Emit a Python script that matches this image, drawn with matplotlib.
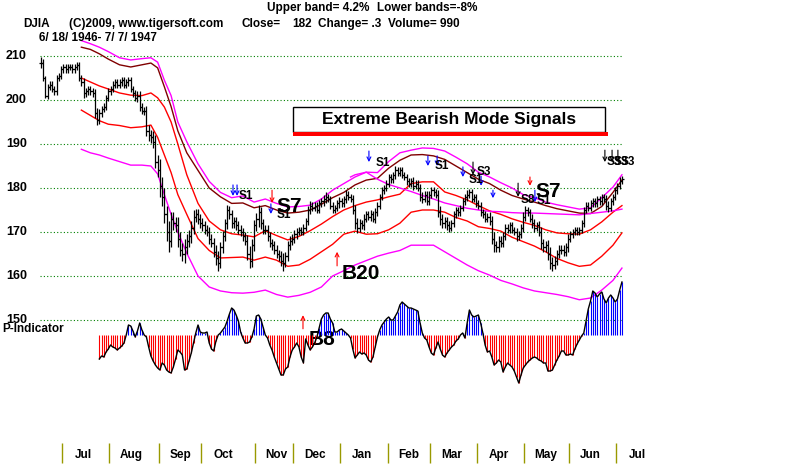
"""
DJIA 6/18/1946 - 7/7/1947 with TigerSoft-style bands, signals and P-Indicator.
"""

import matplotlib

matplotlib.use("Agg")
import numpy as np
import matplotlib.pyplot as plt
import matplotlib.transforms as mtransforms
from matplotlib.patches import Rectangle

plt.rcParams["font.family"] = ["Liberation Sans", "DejaVu Sans"]
plt.rcParams["font.weight"] = "bold"

# ---- daily closes (one per trading day) ----
closes = [
    208.5, 205, 201, 203, 203.5, 202.5, 202, 205, 205.5, 207,
    207.5, 207, 207.5, 207.5, 207, 207.5, 208, 205, 204, 201.5,
    202, 202.5, 202, 201.5, 197, 195.5, 197, 198, 198.5, 200.5,
    202, 202.5, 203.5, 204, 203.5, 204, 204.5, 203.5, 204, 204.5,
    202.5, 201.5, 200.5, 201, 198.5, 197.5, 197.5, 193, 192, 191.5,
    190.5, 186, 184, 180.5, 178, 174, 170, 168, 173, 172,
    171.5, 168.5, 166, 165, 166.5, 168, 169, 171, 173.5, 174,
    173, 172, 171.5, 170.5, 170, 168.5, 167.5, 165.5, 164, 163,
    166.5, 169, 172, 175, 174, 172, 172.5, 171.5, 170.5, 170,
    169, 168, 165, 163.5, 167, 171.5, 173, 174.5, 172, 170.5,
    170.5, 169, 167.5, 167, 166, 165, 164.5, 163.5, 163, 164.5,
    167, 168, 168.5, 169.5, 170, 170.5, 170, 171, 172.5, 175,
    176, 175.5, 176, 175, 176.5, 177, 177.5, 178, 177.5, 176,
    175, 175.5, 176.5, 177, 176.5, 177.5, 178.5, 178, 177.5, 175,
    172, 171, 172, 171.5, 173, 174, 173.5, 174, 173, 174.5,
    176, 178, 179.5, 180, 181, 182.5, 182, 183, 184, 183.5,
    184, 183, 182.5, 181.5, 181, 181.5, 180.5, 181, 180, 178,
    177.5, 178.5, 177, 178.5, 179.5, 179, 178.5, 174.5, 173, 172,
    172.5, 171.5, 171, 172, 174, 175, 174.5, 175.5, 177, 178,
    178.5, 179, 177.5, 178, 176.5, 176, 174.5, 174, 173, 173.5,
    172.5, 168.5, 167, 166.5, 168, 167.5, 169, 171, 170.5, 171.5,
    170.5, 170, 169, 169.5, 171, 173.5, 175, 174.5, 173, 172,
    171, 171.5, 170, 167.5, 166.5, 167, 165, 163, 162.5, 163.5,
    165, 166, 166, 165.5, 166.5, 168.5, 169.5, 170, 170.5, 170,
    170.5, 172, 175, 176, 175.5, 176.5, 177, 176.5, 177.5, 177,
    178, 177.5, 176, 175.5, 177, 178, 179.5, 180.5, 181.7, 182,
]

# extra daily range beyond the open/close body (points)
wick = [
    2.5, 1.5, 1, 1.5, 1.5, 1.5, 1.5, 1.5, 1.5, 1.5,
    1.5, 1.5, 1.5, 1.5, 1.5, 1.5, 1.5, 1.5, 1.5, 2,
    1.5, 1.5, 1.5, 1.5, 2, 2.5, 2, 1.5, 1.5, 1.5,
    1.5, 1.5, 1.5, 1.5, 1.5, 1.5, 1.5, 1.5, 1.5, 1.5,
    1.5, 1.5, 1.5, 2, 2, 1.5, 2, 2.5, 2.5, 2.5,
    3, 3, 3, 5, 4, 4, 4, 5, 3, 3,
    3, 4, 3, 3, 4, 3, 3, 3, 3, 2.5,
    2.5, 2, 2.5, 2, 2, 2.5, 2, 2.5, 3, 3.5,
    2.5, 2.5, 2, 2.5, 2, 2, 2, 2, 2, 2,
    2, 2, 2.5, 3.5, 3, 2.5, 2.5, 3.5, 2.5, 2,
    2, 2, 2, 2, 2, 2, 2, 2.5, 3.5, 2,
    2, 2, 2, 2, 2, 1.5, 1.5, 1.5, 1.5, 2,
    2, 1.5, 1.5, 1.5, 1.5, 1.5, 2, 2, 1.5, 1.5,
    1.5, 1.5, 1.5, 2, 1.5, 1.5, 2, 1.5, 1.5, 2,
    2.5, 2.5, 2, 1.5, 2, 1.5, 1.5, 2, 1.5, 2,
    1.5, 1.5, 1.5, 1.5, 1.5, 1.5, 1.5, 1.5, 2, 1.5,
    1.5, 1.5, 1.5, 1.5, 1.5, 1.5, 2, 1.5, 1.5, 2,
    2, 1.5, 1.5, 1.5, 1.5, 1.5, 1.5, 2, 3, 2,
    2, 2, 2, 1.5, 1.5, 1.5, 1.5, 1.5, 1.5, 1.5,
    2, 1.5, 1.5, 1.5, 1.5, 1.5, 1.5, 1.5, 1.5, 1.5,
    2, 2.5, 3, 2, 2, 2, 2, 1.5, 1.5, 1.5,
    1.5, 1.5, 2, 1.5, 1.5, 2, 2, 1.5, 1.5, 2,
    2, 1.5, 2, 2.5, 2, 2, 2.5, 3, 2.5, 2,
    2, 2, 2, 2, 2, 2, 1.5, 1.5, 1.5, 1.5,
    1.5, 1.5, 1.5, 1.5, 1.5, 1.5, 1.5, 1.5, 1.5, 1.5,
    1.5, 1.5, 2, 2, 1.5, 1.5, 1.5, 1.5, 1.5, 1.5,
]

# ---- bands, sampled every few bars ----
band_idx = [18, 22, 26, 30, 35, 40, 45, 49, 52, 55, 58, 61, 65, 70, 75, 80, 85,
            90, 95, 100, 105, 110, 115, 120, 125, 130, 135, 140, 145, 150, 155,
            160, 165, 170, 175, 180, 185, 190, 195, 200, 205, 210, 215, 220, 225,
            230, 235, 240, 245, 250, 255, 259]
upper_band = [213.5, 212.8, 212, 211, 209.6, 209.1, 209.4, 209.6, 208.6, 204.5,
              201, 195, 190.5, 185.5, 181.5, 179, 177.8, 178.2, 176.8, 177.5,
              176.5, 175.7, 175.8, 176.1, 177.5, 179.5, 181, 182.5, 183.6, 183.5,
              186, 188, 188.6, 189.1, 189, 188.4, 187, 185.5, 183.6, 182.5,
              181.2, 180, 178.5, 177.8, 176.8, 176.2, 175.7, 175.2, 175.5, 177.8,
              180.2, 183]
upper_inner = [212, 211.5, 210.5, 209.3, 208, 207.5, 208, 208.4, 207.3, 203,
               198.5, 193, 188, 184, 180, 178, 176.5, 176.6, 175.5, 176,
               175, 174.3, 174.5, 175, 176.3, 177.8, 179, 180.7, 181.8, 182.2,
               184.5, 186.3, 187.5, 187.6, 187.3, 186.5, 185, 183.5, 182, 181,
               179.5, 178.3, 177.5, 176.8, 176, 175.3, 174.8, 174.3, 174.2, 175.8,
               179, 181.8]
mid_band = [205, 204.1, 203.2, 202.5, 201.6, 201.1, 201, 201.6, 200.5, 198.4,
            195, 190, 183, 176.5, 172.5, 170.5, 169.6, 169.3, 168.9, 170.3,
            169.2, 168.2, 169, 170.3, 171.8, 173.5, 175, 176, 176.8, 177.3,
            178, 178.6, 181, 181.4, 181.4, 179.1, 178.3, 177.3, 176, 174.8,
            174, 173, 172.2, 171.5, 170.5, 169.8, 169.6, 169.5, 170.5, 172.3,
            174.5, 176]
lower_red = [197.7, 196.5, 195.3, 194.5, 194.2, 193.7, 193.9, 194.3, 191.5, 187.5,
             183.5, 178.5, 174, 168.5, 165.8, 164.1, 164.2, 164.3, 163.6, 164.3,
             163.6, 162.2, 162.5, 163.8, 165.5, 167.2, 169.5, 170.2, 169.5, 169.6,
             170.5, 172, 174.5, 175, 175, 174.5, 173.3, 172.5, 171.2, 170.8,
             170.2, 168.8, 167.8, 166.8, 165.5, 164, 163, 162.2, 162.5, 164.5,
             167, 169.8]
lower_band = [188.8, 188, 187.5, 186.8, 186, 185.2, 185.2, 185, 183.2, 178.5,
              174, 170, 165.2, 160, 157.5, 156.6, 156.2, 156.1, 156.3, 156.8,
              155.8, 155.2, 155.6, 156.3, 157.5, 160, 161.2, 162.5, 163.5, 164.5,
              165.2, 165.8, 167, 167, 167, 165.5, 164, 162.5, 161.2, 160.2,
              159, 158.2, 157.3, 156.6, 156.2, 155.8, 155.3, 154.6, 155, 156.8,
              159, 161.8]
long_idx = [138, 140, 145, 150, 155, 160, 165, 170, 175, 180, 185, 190, 195, 200,
            205, 210, 215, 220, 225, 230, 235, 240, 245, 250, 255, 259]
long_band = [182.5, 183, 183.6, 182, 180.8, 180, 179.2, 178.3, 177.5, 176.6, 176,
             175.4, 175, 174.7, 174.6, 174.4, 174.3, 174.3, 174.2, 174.1, 174,
             173.9, 174.2, 174.5, 174.8, 175.2]

# ---- P-Indicator (starts at bar 26) ----
p_start = 26
p_ind = [
    -24, -21, -22, -17,
    -14, -10, -12, -13, -15, -13, -11, -8, 0, 10,
    9, 4, -2, 4, 12, 5, 0, -2, -12, -21,
    -26, -30, -33, -35, -28, -30, -35, -37, -38, -32,
    -24, -15, -17, -20, -35, -34, -26, -18, -8, 2,
    10, 3, 2, 2, 3, -8, -14, -16, -6, 0,
    2, 5, 8, 14, 21, 27, 25, 20, 14, 3,
    -3, -8, -8, -7, -2, 6, 19, 20, 16, 8,
    0, -3, -10, -15, -22, -28, -34, -40, -40, -34,
    -32, -22, -15, -12, -8, -12, -22, -28, -4, -10,
    -15, -12, -8, -2, 7, 16, 20, 22, 22, 16,
    12, 3, 3, 5, 6, 4, 2, 0, -3, -14,
    -23, -20, -17, -19, -18, -20, -25, -27, -22, -12,
    -2, 5, 10, 13, 16, 18, 15, 15, 19, 23,
    30, 33, 31, 29, 27, 27, 26, 25, 24, 12,
    2, -3, -5, -12, -18, -20, -13, -7, -14, -20,
    -22, -18, -15, -12, -10, -6, -4, 0, 2, -3,
    12, 25, 20, 18, 19, 20, 12, 2, -10, -17,
    -16, -22, -30, -28, -25, -27, -37, -32, -28, -30,
    -32, -36, -42, -48, -40, -33, -30, -27, -25, -23,
    -22, -23, -25, -26, -28, -28, -36, -36, -35, -30,
    -25, -21, -16, -16, -20, -20, -19, -20, -14, -9,
    -5, -1, 2, 14, 26, 34, 44, 42, 38, 41,
    43, 36, 32, 37, 40, 37, 33, 36, 45, 53,
]

# ---- axis labels ----
grid_levels = [210, 200, 190, 180, 170, 160, 150]
month_names = ["Jul", "Aug", "Sep", "Oct", "Nov", "Dec", "Jan", "Feb", "Mar",
               "Apr", "May", "Jun", "Jul"]
month_start = [9.5, 30.5, 52.5, 71.5, 95.5, 112.5, 133.5, 154.5, 173.5, 194.5,
               215.5, 235.5, 256.5]

# ---- signals: (bar, tail price, tip price, colour) ----
arrow_x = [85.6, 87.4, 103, 102.5, 146.2, 172.5, 176.6, 188.1, 192.6, 196.2,
           201.5, 212.7, 218, 220.2, 251.4, 254.6, 257.2, 132, 116.8]
arrow_tail = [180.7, 180.7, 179.5, 176.4, 188.4, 187.3, 187.3, 184.8, 185.9, 182.7,
              179.5, 181.1, 182.5, 179.5, 188.6, 188.6, 188.6, 162.3, 148.0]
arrow_tip = [178.2, 178.2, 176.6, 174.1, 185.9, 185.0, 185.0, 182.5, 183.0, 180.5,
             177.7, 178.0, 180.5, 176.8, 185.9, 185.9, 185.9, 165.5, 151.1]
arrow_color = ["blue", "blue", "red", "blue", "blue", "blue", "blue", "blue", "black",
               "blue", "blue", "black", "red", "blue", "black", "black", "black",
               "red", "red"]

label_text = ["S1", "S7", "S1", "S1", "S1", "S3", "S1", "S8", "S7", "S1",
              "S3", "S3", "S3", "B20", "B8"]
label_x = [91.4, 110.6, 108.3, 152.5, 178.8, 197.5, 193.9, 217.1, 226, 224.2,
           255.5, 258.6, 261.7, 142.7, 125.3]
label_y = [178.1, 175.9, 173.9, 185.7, 185.0, 183.6, 181.8, 177.3, 179.3, 177.0,
           185.9, 185.9, 185.9, 160.5, 145.5]
label_big = [False, True, False, False, False, False, False, False, True, False,
             False, False, False, True, True]

# ---------------------------------------------------------------------------
W, H = 800, 469
X0, DX = 41, 2.243        # pixel of first bar, pixels per bar
Y210, DY = 56, 4.4        # pixel of the 210 line, pixels per point
P0 = 335                  # pixel of P-Indicator zero line

closes = np.array(closes)
n = len(closes)
idx = np.arange(n)
opens = np.r_[closes[0], closes[:-1]]
highs = np.maximum(opens, closes) + np.array(wick) / 2
lows = np.minimum(opens, closes) - np.array(wick) / 2

fig = plt.figure(figsize=(W / 100, H / 100), dpi=100)
fig.patch.set_facecolor("white")

ax = fig.add_axes([0, 0, 1, 1])
ax.set_xlim(-X0 / DX, (W - X0) / DX)
ax.set_ylim(210 - (H - Y210) / DY, 210 + Y210 / DY)
ax.axis("off")

ax2 = fig.add_axes([0, 0, 1, 1])
ax2.set_xlim(ax.get_xlim())
ax2.set_ylim(P0 - H, P0)
ax2.axis("off")
ax2.patch.set_alpha(0)


def fx(px):
    return px / W


def fy(py):
    return 1 - py / H


# dotted price grid and its labels
x_left, x_right = (40 - X0) / DX, (623 - X0) / DX
ax.hlines(grid_levels, x_left, x_right, colors="#008000", linestyles=(0, (1, 2)), lw=0.8)
lab_tf = mtransforms.blended_transform_factory(fig.transFigure, ax.transData)
for lvl in grid_levels:
    ax.text(fx(27), lvl, str(lvl), transform=lab_tf, ha="right", va="center",
            fontsize=9, color="black")
ax.text(fx(2), grid_levels[-1] - 2.1, "P-Indicator", transform=lab_tf, ha="left",
        va="center", fontsize=8.5)

# bands
ax.plot(band_idx, upper_band, color="#ff00ff", lw=1)
ax.plot(band_idx, upper_inner, color="#800000", lw=1)
ax.plot(band_idx, mid_band, color="#ff0000", lw=1)
ax.plot(band_idx, lower_red, color="#ff0000", lw=1)
ax.plot(band_idx, lower_band, color="#ff00ff", lw=1)
ax.plot(long_idx, long_band, color="#ff00ff", lw=1)

# OHLC bars
ax.vlines(idx, lows, highs, colors="black", lw=0.9)
ax.hlines(closes, idx, idx + 0.8, colors="black", lw=0.9)
ax.hlines(opens, idx - 0.8, idx, colors="black", lw=0.9)

# P-Indicator
p = np.array(p_ind)
p_idx = np.arange(p_start, p_start + len(p))
ax2.vlines(p_idx[p > 0], 0, p[p > 0], colors="#0000ff", lw=0.8)
ax2.vlines(p_idx[p < 0], 0, p[p < 0], colors="#ff0000", lw=0.8)
ax2.plot(p_idx, p, color="black", lw=1)

# month ticks
ax.vlines(month_start, 117.5, 122.05, colors="#999900", lw=1)
for m, name in zip(month_start, month_names):
    ax.text(m + 9.6, 119.4, name, ha="center", va="center", fontsize=8.5)

# signals
for x, t0, t1, c in zip(arrow_x, arrow_tail, arrow_tip, arrow_color):
    ax.annotate("", xy=(x, t1), xytext=(x, t0),
                arrowprops=dict(arrowstyle="->", color=c, lw=0.8,
                                shrinkA=0, shrinkB=0, mutation_scale=7))
for s, x, y, big in zip(label_text, label_x, label_y, label_big):
    ax.text(x, y, s, ha="center", va="center", fontsize=15 if big else 8.5,
            color="black")

# header
fig.text(fx(267), fy(8), "Upper band= 4.2%", fontsize=8.5, va="center")
fig.text(fx(377), fy(8), "Lower bands=-8%", fontsize=8.5, va="center")
fig.text(fx(23), fy(24), "DJIA", fontsize=8.5, va="center")
fig.text(fx(69), fy(24), "(C)2009, www.tigersoft.com", fontsize=8.5, va="center")
fig.text(fx(242), fy(24), "Close=", fontsize=8.5, va="center")
fig.text(fx(292), fy(24), "182", fontsize=8.5, va="center")
fig.text(fx(318), fy(24), "Change= .3", fontsize=8.5, va="center")
fig.text(fx(388), fy(24), "Volume= 990", fontsize=8.5, va="center")
fig.text(fx(39), fy(38), "6/ 18/ 1946- 7/ 7/ 1947", fontsize=8.5, va="center")

# title box
fig.add_artist(Rectangle((fx(293), fy(132)), (605 - 293) / W, 25 / H,
                         transform=fig.transFigure, facecolor="white",
                         edgecolor="black", lw=1))
fig.add_artist(Rectangle((fx(293), fy(136)), (608 - 293) / W, 4 / H,
                         transform=fig.transFigure, facecolor="#ff0000",
                         edgecolor="none"))
fig.text(fx(449), fy(119), "Extreme Bearish Mode Signals", fontsize=12.5,
         ha="center", va="center")

fig.savefig("out.png", dpi=100, facecolor="white")
